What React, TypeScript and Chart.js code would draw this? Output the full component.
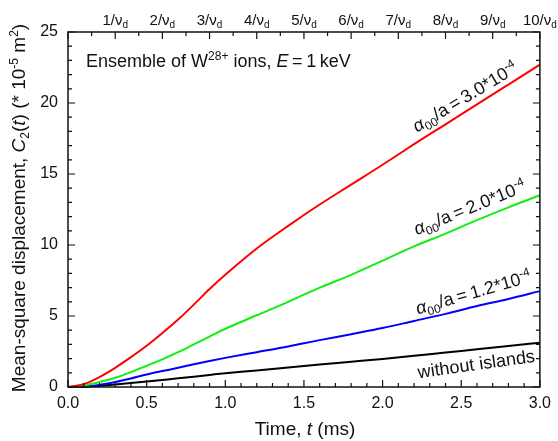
import React, { useEffect, useRef } from "react";
import { Chart, registerables } from "chart.js";

Chart.register(...registerables);

const FONT = '"Liberation Sans", Arial, sans-serif';

// time axis (ms)
const times = [0, 0.1, 0.2, 0.3, 0.4, 0.5, 0.6, 0.7, 0.8, 0.9, 1.0, 1.2, 1.4, 1.6, 1.8, 2.0, 2.2, 2.4, 2.6, 2.8, 3.0];
// Mean-square displacement C2(t) (*1e-5 m^2)
const red3 = [0, 0.2, 0.7, 1.35, 2.1, 2.9, 3.8, 4.75, 5.8, 6.9, 7.9, 9.75, 11.35, 12.85, 14.25, 15.65, 17.1, 18.5, 19.9, 21.3, 22.7];
const green2 = [0, 0.1, 0.35, 0.65, 1.05, 1.5, 1.95, 2.45, 3.0, 3.55, 4.1, 5.05, 6.0, 7.0, 7.9, 8.9, 9.9, 10.8, 11.75, 12.65, 13.5];
const blue12 = [0, 0.03, 0.15, 0.35, 0.6, 0.88, 1.12, 1.35, 1.6, 1.83, 2.05, 2.45, 2.85, 3.3, 3.72, 4.15, 4.65, 5.15, 5.7, 6.2, 6.75];
const noIslands = [0, 0.02, 0.08, 0.17, 0.28, 0.39, 0.5, 0.61, 0.73, 0.85, 0.97, 1.17, 1.38, 1.58, 1.78, 1.98, 2.2, 2.43, 2.65, 2.88, 3.12];

// top axis: multiples of 1/nu_d
const topTickTimes = [0.3, 0.6, 0.9, 1.2, 1.5, 1.8, 2.1, 2.4, 2.7, 3.0];
const topTickNums = ["1", "2", "3", "4", "5", "6", "7", "8", "9", "10"];

type Seg = { t: string; it?: boolean; s?: "sub" | "sup" };

function segFont(seg: Seg, size: number) {
  const sz = seg.s ? Math.round(size * 0.65) : size;
  return `${seg.it ? "italic " : ""}${sz}px ${FONT}`;
}

function drawRich(
  ctx: CanvasRenderingContext2D,
  segs: Seg[],
  x: number,
  y: number,
  size: number,
  align: "left" | "center" | "right",
  angle = 0,
  color = "#111"
) {
  ctx.save();
  ctx.translate(x, y);
  ctx.rotate(angle);
  ctx.fillStyle = color;
  ctx.textAlign = "left";
  ctx.textBaseline = "alphabetic";
  const widths = segs.map((s) => {
    ctx.font = segFont(s, size);
    return ctx.measureText(s.t).width;
  });
  const total = widths.reduce((a, b) => a + b, 0);
  let cx = align === "center" ? -total / 2 : align === "right" ? -total : 0;
  segs.forEach((s, i) => {
    ctx.font = segFont(s, size);
    const dy = s.s === "sub" ? size * 0.22 : s.s === "sup" ? -size * 0.38 : 0;
    ctx.fillText(s.t, cx, dy);
    cx += widths[i];
  });
  ctx.restore();
}

const deco = {
  id: "deco",
  afterDraw(chart: any) {
    const ctx: CanvasRenderingContext2D = chart.ctx;
    const { left, right, top, bottom } = chart.chartArea;
    const xs = chart.scales.x;
    const ys = chart.scales.y;
    ctx.save();
    ctx.strokeStyle = "#111";
    ctx.lineWidth = 1.5;
    ctx.strokeRect(left, top, right - left, bottom - top);
    ctx.lineWidth = 1.2;
    ctx.beginPath();
    // bottom ticks
    for (let i = 0; i <= 30; i++) {
      const v = i / 10;
      const px = xs.getPixelForValue(v);
      const len = i % 5 === 0 ? 7 : 4;
      ctx.moveTo(px, bottom);
      ctx.lineTo(px, bottom - len);
    }
    // top ticks
    for (let i = 0; i <= 20; i++) {
      const v = i * 0.15;
      const px = xs.getPixelForValue(v);
      const len = i % 2 === 0 ? 7 : 4;
      ctx.moveTo(px, top);
      ctx.lineTo(px, top + len);
    }
    // left and right ticks
    for (let i = 0; i <= 25; i++) {
      const py = ys.getPixelForValue(i);
      const len = i % 5 === 0 ? 7 : 4;
      ctx.moveTo(left, py);
      ctx.lineTo(left + len, py);
      ctx.moveTo(right, py);
      ctx.lineTo(right - len, py);
    }
    ctx.stroke();
    ctx.restore();

    // top labels n/nu_d
    topTickTimes.forEach((t, i) => {
      const px = xs.getPixelForValue(t);
      drawRich(ctx, [{ t: `${topTickNums[i]}/ν` }, { t: "d", s: "sub" }], px, 25, 15, "center");
    });

    // title
    drawRich(
      ctx,
      [
        { t: "Ensemble of W" },
        { t: "28+", s: "sup" },
        { t: " ions, " },
        { t: "E", it: true },
        { t: "\u2009=\u20091\u2009keV" },
      ],
      86,
      67,
      18,
      "left"
    );

    // axis titles
    drawRich(
      ctx,
      [
        { t: "Mean-square displacement, " },
        { t: "C", it: true },
        { t: "2", s: "sub" },
        { t: "(" },
        { t: "t", it: true },
        { t: ") (* 10" },
        { t: "-5", s: "sup" },
        { t: " m" },
        { t: "2", s: "sup" },
        { t: ")" },
      ],
      25,
      208,
      19,
      "center",
      -Math.PI / 2
    );
    drawRich(ctx, [{ t: "Time, " }, { t: "t", it: true }, { t: " (ms)" }], 305, 435, 19, "center");

    // curve labels
    const lab = (val: string): Seg[] => [
      { t: "α", it: true },
      { t: "00", s: "sub" },
      { t: "/a\u2009=\u2009" + val + "*10" },
      { t: "-4", s: "sup" },
    ];
    const deg = Math.PI / 180;
    drawRich(ctx, lab("3.0"), 468, 102, 18, "center", -31 * deg);
    drawRich(ctx, lab("2.0"), 472, 213, 18, "center", -22 * deg);
    drawRich(ctx, lab("1.2"), 475, 298, 18, "center", -16 * deg);
    drawRich(ctx, [{ t: "without islands" }], 477, 370, 18, "center", -8 * deg);
  },
};

export default function App() {
  const ref = useRef<HTMLCanvasElement | null>(null);
  useEffect(() => {
    if (!ref.current) return;
    const mk = (vals: number[]) => times.map((t, i) => ({ x: t, y: vals[i] }));
    const common = { borderWidth: 2, pointRadius: 0, cubicInterpolationMode: "monotone", clip: 3 };
    const chart = new Chart(ref.current, {
      type: "line",
      data: {
        datasets: [
          { label: "3.0e-4", data: mk(red3), borderColor: "#ff0000", ...common } as any,
          { label: "2.0e-4", data: mk(green2), borderColor: "#11ee11", ...common } as any,
          { label: "1.2e-4", data: mk(blue12), borderColor: "#0000ff", ...common } as any,
          { label: "without islands", data: mk(noIslands), borderColor: "#000000", ...common } as any,
        ],
      },
      options: {
        responsive: false,
        animation: false,
        layout: { padding: { top: 32, right: 17, left: 0, bottom: 0 } },
        plugins: { legend: { display: false }, tooltip: { enabled: false } },
        scales: {
          x: {
            type: "linear",
            min: 0,
            max: 3,
            grid: { display: false, drawTicks: false },
            border: { display: false },
            ticks: {
              stepSize: 0.5,
              padding: 7,
              color: "#111",
              font: { family: FONT, size: 16 },
              callback: (v: any) => Number(v).toFixed(1),
            },
            afterFit: (s: any) => {
              s.height = 54;
            },
          },
          y: {
            type: "linear",
            min: 0,
            max: 25,
            grid: { display: false, drawTicks: false },
            border: { display: false },
            ticks: {
              stepSize: 5,
              padding: 10,
              color: "#111",
              font: { family: FONT, size: 16 },
            },
            afterFit: (s: any) => {
              s.width = 68;
            },
          },
        },
      },
      plugins: [deco],
    });
    return () => chart.destroy();
  }, []);
  return (
    <div style={{ position: "fixed", left: 0, top: 0, width: 558, height: 441, background: "#fff" }}>
      <canvas ref={ref} width={558} height={441} />
    </div>
  );
}
